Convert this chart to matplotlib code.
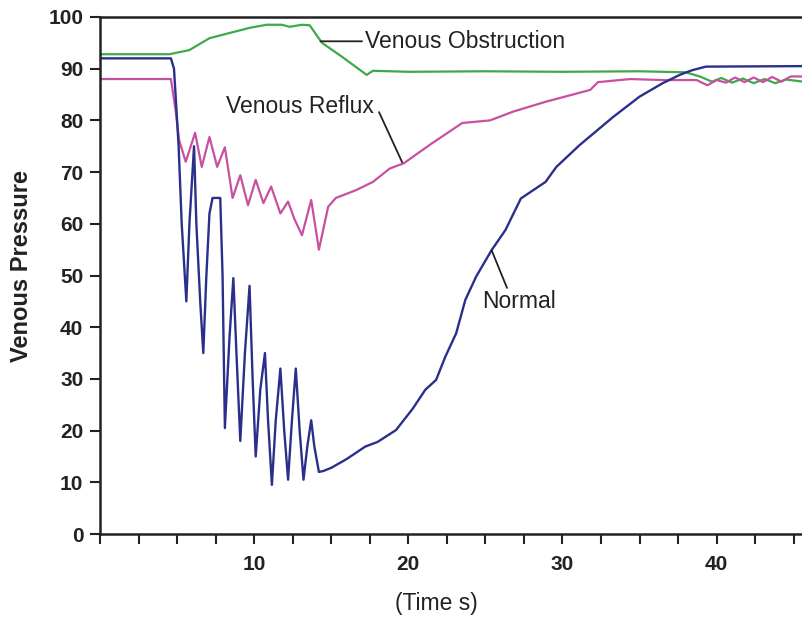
import numpy as np
import matplotlib.pyplot as plt

plt.rcParams['font.family'] = ['Liberation Sans', 'DejaVu Sans']

# Normal (blue) trace: time (s), pressure
normal_t = [0, 4.6, 4.8, 5.1, 5.3, 5.6, 5.8, 6.1, 6.25, 6.5, 6.7, 6.9, 7.1, 7.3, 7.8,
            7.95, 8.1, 8.4, 8.65, 8.85, 9.1, 9.4, 9.7, 9.9, 10.1, 10.4, 10.7, 10.9,
            11.15, 11.4, 11.7, 11.95, 12.2, 12.45, 12.7, 12.95, 13.2, 13.45, 13.7,
            13.9, 14.2, 14.5, 15, 16, 17.2, 18, 19.2, 20.3, 21.1, 21.8, 22.4, 23.1,
            23.7, 24.4, 25.4, 26.3, 27.3, 28.9, 29.6, 31.1, 33.3, 35, 36.5, 37.6,
            38.4, 39.3, 45.6]
normal_p = [92, 92, 90, 75, 60, 45, 60, 75, 60, 45, 35, 50, 62, 65, 65,
            50, 20.5, 38, 49.5, 35, 18, 35, 48, 30, 15, 28, 35, 22,
            9.5, 22, 32, 20, 10.5, 22, 32, 20, 10.5, 17, 22,
            17, 12, 12.2, 12.8, 14.5, 16.9, 17.8, 20.1, 24.3, 27.9, 29.8, 34.3, 38.8,
            45.3, 49.8, 54.9, 58.8, 64.9, 68.1, 71, 75.2, 80.7, 84.6, 87.2, 88.8,
            89.7, 90.4, 90.5]

# Venous reflux (magenta) trace
reflux_t = [0, 4.6, 4.9, 5.13, 5.56, 6.17, 6.6, 7.1, 7.6, 8.1, 8.6, 9.1, 9.6, 10.1,
            10.6, 11.1, 11.7, 12.2, 12.6, 13.1, 13.7, 14.2, 14.8, 15.3, 16.6, 17.7,
            18.8, 19.7, 21.5, 23.5, 25.3, 26.8, 28.9, 31.8, 32.3, 34.4, 36.5, 38.7,
            39.4, 40, 40.6, 41.2, 41.8, 42.4, 43, 43.6, 44.2, 44.8, 45.6]
reflux_p = [88, 88, 82, 76.2, 72, 77.6, 71, 76.8, 71, 74.8, 65, 69.4, 63.6, 68.5,
            64, 67.2, 62, 64.3, 61, 57.8, 64.6, 55, 63.3, 65, 66.5, 68.1,
            70.7, 71.7, 75.5, 79.5, 80, 81.7, 83.6, 85.9, 87.4, 88, 87.8, 87.8,
            86.8, 87.8, 87.3, 88.3, 87.4, 88.3, 87.4, 88.4, 87.5, 88.5, 88.5]

# Venous obstruction (green) trace
obstr_t = [0, 4.5, 5.8, 7.1, 8.4, 9.7, 10.8, 11.8, 12.3, 13.1, 13.6, 14.4, 15.7,
           17.3, 17.7, 20, 25, 30, 35, 38, 38.9, 39.7, 40.3, 41, 41.7, 42.4, 43.1,
           43.8, 44.5, 45.6]
obstr_p = [92.8, 92.8, 93.6, 95.9, 96.9, 97.9, 98.5, 98.5, 98.1, 98.5, 98.4, 95, 92.3,
           88.8, 89.6, 89.4, 89.5, 89.4, 89.5, 89.3, 88.5, 87.5, 88.2, 87.3, 88.1, 87.2, 88,
           87.2, 87.9, 87.5]

fig = plt.figure(figsize=(8.03, 6.17), dpi=100)
ax = fig.add_axes([100 / 803, 83 / 617, 703 / 803, 517 / 617])

ax.plot(obstr_t, obstr_p, color='#3daa48', lw=1.6)
ax.plot(reflux_t, reflux_p, color='#c7509f', lw=1.6)
ax.plot(normal_t, normal_p, color='#2b2f8c', lw=1.7)

# labels with leader lines
lead = dict(arrowstyle='-', color='#222222', lw=1.3, shrinkA=0, shrinkB=0)
ax.annotate('', xy=(14.3, 95.3), xytext=(17.0, 95.3), arrowprops=lead)
ax.text(17.2, 95.3, 'Venous Obstruction', fontsize=16.5, color='#222222',
        ha='left', va='center')
ax.annotate('', xy=(19.6, 71.9), xytext=(18.1, 81.6), arrowprops=lead)
ax.text(13.0, 82.6, 'Venous Reflux', fontsize=16.5, color='#222222',
        ha='center', va='center')
ax.annotate('', xy=(25.4, 54.9), xytext=(26.4, 47.6), arrowprops=lead)
ax.text(24.8, 44.9, 'Normal', fontsize=16.5, color='#222222',
        ha='left', va='center')

ax.set_xlim(0, 45.6)
ax.set_ylim(0, 100)
ax.set_yticks(np.arange(0, 101, 10))
xt = np.arange(0, 45.1, 2.5)
ax.set_xticks(xt)
ax.set_xticklabels([f'{int(v)}' if v % 10 == 0 and v > 0 else '' for v in xt])

for lab in ax.get_xticklabels() + ax.get_yticklabels():
    lab.set_fontweight('bold')
ax.tick_params(axis='both', direction='out', length=7, width=1.5,
               labelsize=15, colors='#222222')
ax.tick_params(axis='y', pad=5)
ax.tick_params(axis='x', pad=8)

for s in ['left', 'bottom', 'top']:
    ax.spines[s].set_linewidth(1.8)
    ax.spines[s].set_color('#222222')
ax.spines['right'].set_visible(False)

ax.set_ylabel('Venous Pressure', fontsize=17, fontweight='bold', color='#222222')
ax.yaxis.set_label_coords(-0.095, 0.518)
ax.set_xlabel('(Time s)', fontsize=16.5, color='#222222')
ax.xaxis.set_label_coords(0.479, -0.112)

fig.savefig('out.png', dpi=100)
